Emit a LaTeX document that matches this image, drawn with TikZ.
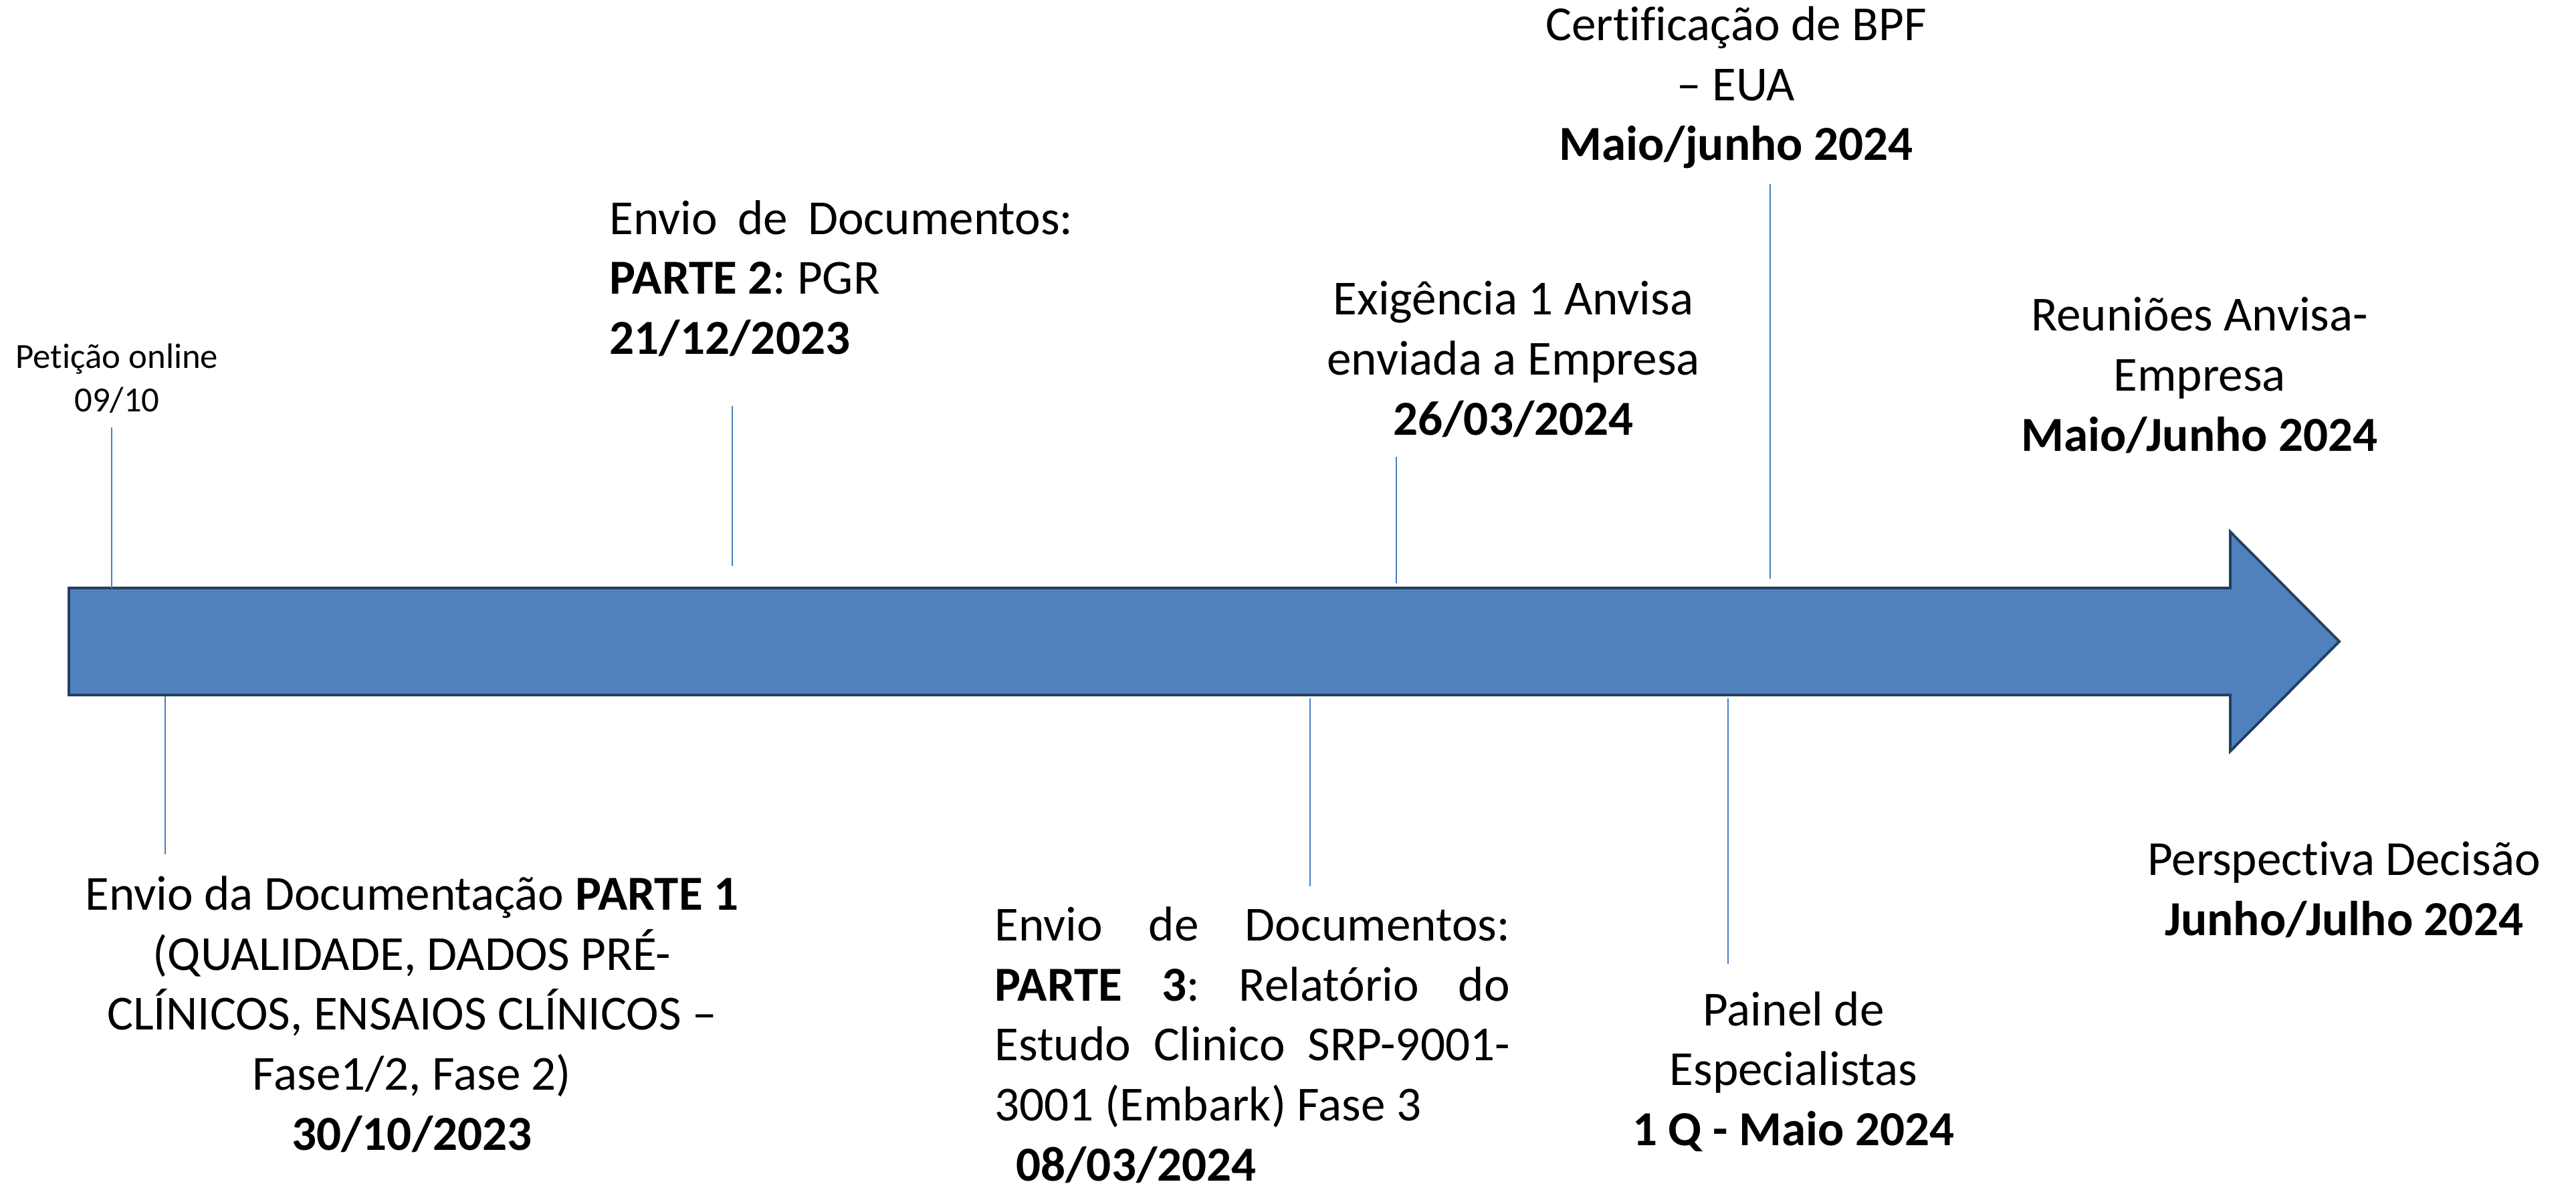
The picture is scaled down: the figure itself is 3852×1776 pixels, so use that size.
\documentclass[tikz,border=0pt]{standalone}
\usepackage{fontspec}
\setmainfont{Carlito}[RawFeature={-liga;-clig;-calt}]
\usetikzlibrary{positioning}
\definecolor{seta}{HTML}{4F81BD}
\definecolor{borda}{HTML}{243F60}
\definecolor{marco}{HTML}{4A7EBB}
\frenchspacing

\begin{document}
\begin{tikzpicture}[x=0.01cm,y=-0.01cm,
    tique/.style={draw=marco, line width=0.6pt},
    rotulo/.style={inner sep=0pt, align=center, font=\fontsize{20.8}{25.5}\selectfont}]
  \useasboundingbox (0,0) rectangle (3852,1776);

  % Seta da linha do tempo
  \draw[fill=seta, draw=borda, line width=1.1pt]
    (103,879) -- (3335,879) -- (3335,795) -- (3498,959) -- (3335,1123)
    -- (3335,1039) -- (103,1039) -- cycle;

  % Marcos acima da seta
  \node[rotulo, font=\fontsize{15}{18.5}\selectfont] (peticao) at (175,566) {Petição online\\09/10};
  \node[rotulo, anchor=west, align=left] (parte2) at (911,416)
    {\makebox[197pt][s]{Envio de Documentos:}\\\textbf{PARTE 2}: PGR\\\textbf{21/12/2023}};
  \node[rotulo] (exigencia) at (2263,537) {Exigência 1 Anvisa\\enviada a Empresa\\\textbf{26/03/2024}};
  \node[rotulo] (certif) at (2596,131) {Certificação de BPF\\– EUA\\\textbf{Maio/junho 2024}};
  \node[rotulo] (reunioes) at (3289,561) {Reuniões Anvisa-\\Empresa\\\textbf{Maio/Junho 2024}};

  % Marcos abaixo da seta
  \node[rotulo] (parte1) at (616,1516)
    {Envio da Documentação \textbf{PARTE 1}\\(QUALIDADE, DADOS PRÉ-\\CLÍNICOS, ENSAIOS CLÍNICOS –\\Fase1/2, Fase 2)\\\textbf{30/10/2023}};
  \node[rotulo, anchor=west, align=left] (parte3) at (1487,1562)
    {\makebox[219pt][s]{Envio de Documentos:}\\
     \makebox[219pt][s]{\textbf{PARTE 3}: Relatório do}\\
     \makebox[219pt][s]{Estudo Clinico SRP-9001-}\\
     3001 (Embark) Fase 3\\
     \hspace*{9pt}\textbf{08/03/2024}};
  \node[rotulo] (painel) at (2682,1602) {Painel de\\Especialistas\\\textbf{1 Q - Maio 2024}};
  \node[rotulo] (perspectiva) at (3505,1330) {Perspectiva Decisão\\\textbf{Junho/Julho 2024}};

  % Traços dos marcos
  \coordinate (m1a) at (167,639);  \coordinate (m1b) at (167,879);
  \coordinate (m2a) at (1095,607); \coordinate (m2b) at (1095,846);
  \coordinate (m3a) at (2088,683); \coordinate (m3b) at (2088,872);
  \coordinate (m4a) at (2647,275); \coordinate (m4b) at (2647,865);
  \coordinate (m5a) at (247,1041); \coordinate (m5b) at (247,1277);
  \coordinate (m6a) at (1959,1044); \coordinate (m6b) at (1959,1325);
  \coordinate (m7a) at (2584,1044); \coordinate (m7b) at (2584,1441);
  \draw[tique] (m1a) -- (m1b);
  \draw[tique] (m2a) -- (m2b);
  \draw[tique] (m3a) -- (m3b);
  \draw[tique] (m4a) -- (m4b);
  \draw[tique] (m5a) -- (m5b);
  \draw[tique] (m6a) -- (m6b);
  \draw[tique] (m7a) -- (m7b);
\end{tikzpicture}
\end{document}
